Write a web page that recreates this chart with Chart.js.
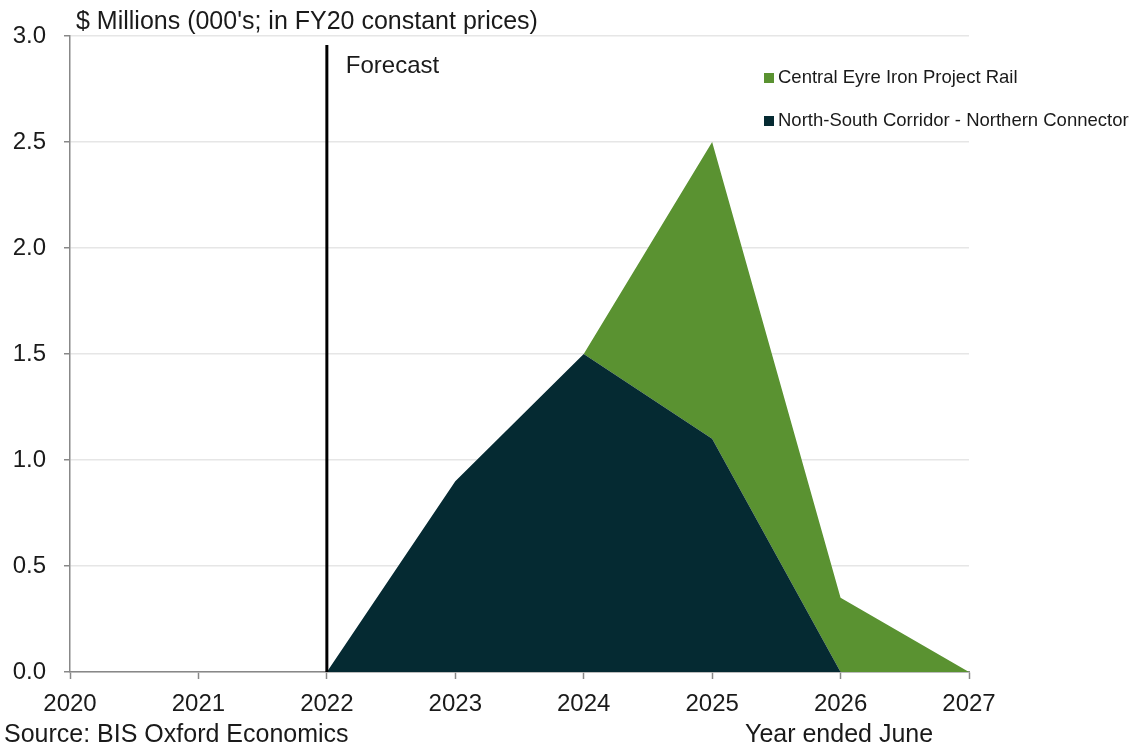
<!doctype html>
<html lang="en">
<head>
<meta charset="utf-8">
<title>Project spending</title>
<script src="https://cdn.jsdelivr.net/npm/chart.js"></script>
<style>
  html, body { margin: 0; padding: 0; background: #fff; }
  #wrap { position: relative; width: 1143px; height: 749px; }
</style>
</head>
<body>
<div id="wrap"><canvas id="chart" width="1143" height="749"></canvas></div>
<script>
// years on the x axis (year ended June)
const years = ['2020', '2021', '2022', '2023', '2024', '2025', '2026', '2027'];
// $ millions, stacked
const northSouth = [0, 0, 0, 0.9, 1.5, 1.1, 0, 0];
const centralEyre = [null, null, null, null, 0, 1.4, 0.35, 0];
const yTicks = [0, 0.5, 1.0, 1.5, 2.0, 2.5, 3.0];
const forecastYear = '2022';

const FONT = '"Liberation Sans", Arial, sans-serif';
const GREEN = '#5a9231';
const DARK = '#052a32';
const TEXT = '#1a1a1a';

// vertical forecast marker, legend and the loose captions
const extras = {
  id: 'extras',
  afterDatasetsDraw(chart) {
    const ctx = chart.ctx;
    const x = chart.scales.x;
    const y = chart.scales.y;
    const fx = x.getPixelForValue(years.indexOf(forecastYear));
    ctx.save();
    ctx.strokeStyle = '#000';
    ctx.lineWidth = 3;
    ctx.beginPath();
    ctx.moveTo(fx, 45);
    ctx.lineTo(fx, y.bottom);
    ctx.stroke();

    ctx.fillStyle = TEXT;
    ctx.textBaseline = 'middle';
    ctx.font = '24px ' + FONT;
    ctx.fillText('Forecast', fx + 19, 66);

    // legend, top series first
    ctx.font = '18.5px ' + FONT;
    const items = [chart.data.datasets[1], chart.data.datasets[0]];
    items.forEach((ds, i) => {
      const ly = 78 + i * 43;
      ctx.fillStyle = ds.backgroundColor;
      ctx.fillRect(764, ly - 5, 10, 10);
      ctx.fillStyle = TEXT;
      ctx.fillText(ds.label, 778, ly);
    });

    ctx.font = '25px ' + FONT;
    ctx.fillText("$ Millions (000's; in FY20 constant prices)", 76, 22);
    ctx.fillText('Source: BIS Oxford Economics', 4, 735);
    ctx.fillText('Year ended June', 745, 735);
    ctx.restore();
  }
};

new Chart(document.getElementById('chart'), {
  type: 'line',
  data: {
    labels: years,
    datasets: [
      {
        label: 'North-South Corridor - Northern Connector',
        data: northSouth,
        backgroundColor: DARK,
        borderColor: DARK,
        borderWidth: 0,
        pointRadius: 0,
        fill: 'origin',
        tension: 0
      },
      {
        label: 'Central Eyre Iron Project Rail',
        data: centralEyre,
        backgroundColor: GREEN,
        borderColor: GREEN,
        borderWidth: 0,
        pointRadius: 0,
        fill: '-1',
        tension: 0
      }
    ]
  },
  options: {
    responsive: false,
    animation: false,
    layout: { padding: { top: 36, right: 174, left: 0, bottom: 0 } },
    plugins: { legend: { display: false }, tooltip: { enabled: false } },
    scales: {
      x: {
        offset: false,
        grid: { display: true, drawOnChartArea: false, drawTicks: true, tickLength: 7, tickColor: '#888', tickWidth: 1.5 },
        border: { color: '#888', width: 1.5 },
        ticks: { color: TEXT, font: { family: FONT, size: 24 }, padding: 11, maxRotation: 0 },
        afterFit(s) { s.height = 77; }
      },
      y: {
        stacked: true,
        min: 0,
        max: 3,
        afterBuildTicks(s) { s.ticks = yTicks.map(v => ({ value: v })); },
        grid: { color: '#e6e6e6', lineWidth: 1.5, tickLength: 6, tickColor: '#888' },
        border: { color: '#888', width: 1.5 },
        ticks: {
          color: TEXT,
          font: { family: FONT, size: 24 },
          padding: 18,
          callback: v => v.toFixed(1)
        },
        afterFit(s) { s.width = 70; }
      }
    }
  },
  plugins: [extras]
});
</script>
</body>
</html>
